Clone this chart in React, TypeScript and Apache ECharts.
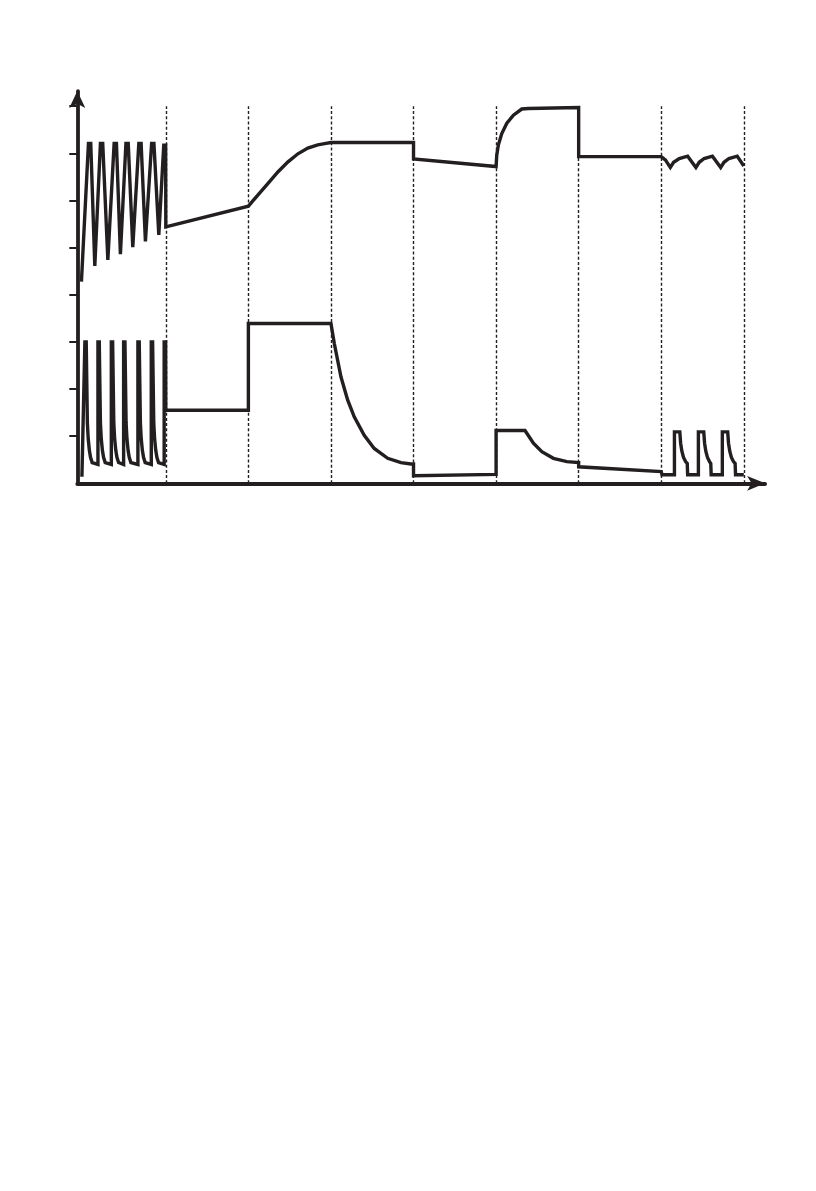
import React, { useEffect, useRef } from 'react';
import * as echarts from 'echarts';

const INK = '#231f20';

// dashed phase boundaries and y tick positions
const phaseBounds = [10, 20, 30, 40, 50, 60, 70, 80];
const yTicks = [1, 2, 3, 4, 5, 6, 7, 8];

// upper trace
const upperBurst = [
  [-0.22, 4.28],
  [0.63, 7.21], [0.91, 7.21], [1.4, 4.61],
  [2.08, 7.21], [2.36, 7.21], [2.98, 4.74],
  [3.74, 7.21], [4.02, 7.21], [4.5, 4.86],
  [5.17, 7.21], [5.45, 7.21], [6.0, 5.01],
  [6.73, 7.21], [7.01, 7.21], [7.53, 5.13],
  [8.28, 7.21], [8.56, 7.21], [9.15, 5.27],
  [9.75, 7.17], [9.98, 7.17], [10, 5.44],
];

const upperMiddle = [
  [20, 5.88],
  [21.17, 6.12], [22.38, 6.36], [23.6, 6.61], [24.8, 6.82], [26.0, 6.99],
  [27.2, 7.11], [28.4, 7.18], [29.4, 7.21], [30, 7.23],
  [40, 7.23], [40, 6.88], [50, 6.72],
  [50.08, 6.96], [50.28, 7.18], [50.69, 7.42], [51.3, 7.64], [52.1, 7.81],
  [53.11, 7.94], [53.91, 7.95], [60, 7.97], [60, 6.93], [70, 6.93],
];

const upperRipple = [
  [70.5, 6.86], [71.1, 6.7], [71.5, 6.81], [72.18, 6.89], [73.2, 6.94],
  [74.2, 6.7], [74.6, 6.81], [75.2, 6.89], [76.2, 6.94],
  [77.2, 6.7], [77.6, 6.81], [78.2, 6.89], [79.2, 6.94],
  [80, 6.73],
];

// lower trace
const lowerBurst = [
  [-0.16, 0.14],
  [0.2, 3.0], [0.36, 3.0], [0.5, 1.28], [0.6, 0.95], [0.74, 0.7], [0.88, 0.55], [1.08, 0.44],
  [1.78, 0.4], [1.78, 3.0], [1.94, 3.0], [2.08, 1.28], [2.18, 0.95], [2.32, 0.7], [2.46, 0.55], [2.66, 0.44],
  [3.4, 0.4], [3.4, 3.0], [3.56, 3.0], [3.7, 1.28], [3.8, 0.95], [3.94, 0.7], [4.08, 0.55], [4.28, 0.44],
  [4.89, 0.4], [4.89, 3.0], [5.05, 3.0], [5.19, 1.28], [5.29, 0.95], [5.43, 0.7], [5.57, 0.55], [5.77, 0.44],
  [6.62, 0.4], [6.62, 3.0], [6.78, 3.0], [6.92, 1.28], [7.02, 0.95], [7.16, 0.7], [7.3, 0.55], [7.5, 0.44],
  [8.24, 0.4], [8.24, 3.0], [8.4, 3.0], [8.54, 1.28], [8.64, 0.95], [8.78, 0.7], [8.92, 0.55], [9.12, 0.44],
  [9.8, 0.4], [9.8, 3.0], [9.98, 3.0], [10, 1.55],
];

const lowerMiddle = [
  [20, 1.55], [20, 3.39], [30, 3.39],
  [30.4, 2.97], [31.21, 2.26], [32.02, 1.77], [32.82, 1.41], [34.03, 1.02],
  [35.24, 0.74], [36.87, 0.53], [38.48, 0.44], [39.69, 0.41], [40, 0.41],
  [40, 0.16], [50, 0.19], [50, 1.12], [53.5, 1.12],
  [54.52, 0.85], [55.54, 0.67], [56.94, 0.53], [58.57, 0.46], [60, 0.44],
  [60, 0.35], [70, 0.25], [70.1, 0.18],
];

const lowerPulses = [
  [71.6, 0.18], [71.6, 1.09], [72.25, 1.09], [72.35, 0.85], [72.5, 0.68], [72.7, 0.55], [72.95, 0.46], [73.15, 0.42], [73.2, 0.18],
  [74.5, 0.18], [74.5, 1.09], [75.15, 1.09], [75.25, 0.85], [75.4, 0.68], [75.6, 0.55], [75.85, 0.46], [76.0, 0.42], [76.05, 0.18],
  [77.4, 0.18], [77.4, 1.09], [78.05, 1.09], [78.15, 0.85], [78.3, 0.68], [78.5, 0.55], [78.75, 0.46], [78.95, 0.42], [79.0, 0.18],
  [80, 0.18],
];

const App: React.FC = () => {
  const chartRef = useRef<HTMLDivElement>(null);

  useEffect(() => {
    if (!chartRef.current) return;
    const chart = echarts.init(chartRef.current, null, { renderer: 'svg' });

    const traceStyle = { color: INK, width: 3.4, join: 'miter' as const, miterLimit: 4 };

    const option: echarts.EChartsOption = {
      animation: false,
      backgroundColor: '#ffffff',
      grid: { left: 77.3, right: 50.9, top: 91.1, bottom: 707.7, containLabel: false },
      xAxis: {
        type: 'value',
        min: -0.72,
        max: 82.58,
        axisLine: {
          onZero: false,
          lineStyle: { color: INK, width: 3.8 },
          symbol: ['none', 'arrow'],
          symbolSize: [11, 18],
        },
        axisTick: { show: false },
        axisLabel: { show: false },
        splitLine: { show: false },
      },
      yAxis: {
        type: 'value',
        min: 0,
        max: 8.32,
        axisLine: {
          onZero: false,
          lineStyle: { color: INK, width: 3.8 },
          symbol: ['none', 'arrow'],
          symbolSize: [12, 17],
        },
        axisTick: {
          show: true,
          customValues: yTicks,
          length: 8,
          lineStyle: { color: INK, width: 2 },
        },
        axisLabel: { show: false },
        splitLine: { show: false },
      },
      series: [
        {
          type: 'line',
          name: 'upper',
          data: [...upperBurst, ...upperMiddle, ...upperRipple],
          showSymbol: false,
          lineStyle: traceStyle,
          z: 3,
          markLine: {
            silent: true,
            symbol: ['none', 'none'],
            label: { show: false },
            lineStyle: { color: INK, width: 1.4, type: [3, 2.2] },
            data: phaseBounds.map((x) => [{ coord: [x, 0] }, { coord: [x, 8] }]) as any,
          },
        },
        {
          type: 'line',
          name: 'lower',
          data: [...lowerBurst, ...lowerMiddle, ...lowerPulses],
          showSymbol: false,
          lineStyle: traceStyle,
          z: 3,
        },
      ],
    };

    chart.setOption(option);

    return () => {
      chart.dispose();
    };
  }, []);

  return (
    <div
      ref={chartRef}
      style={{ position: 'absolute', left: 0, top: 0, width: '816px', height: '1191px', background: '#fff' }}
    />
  );
};

export default App;
